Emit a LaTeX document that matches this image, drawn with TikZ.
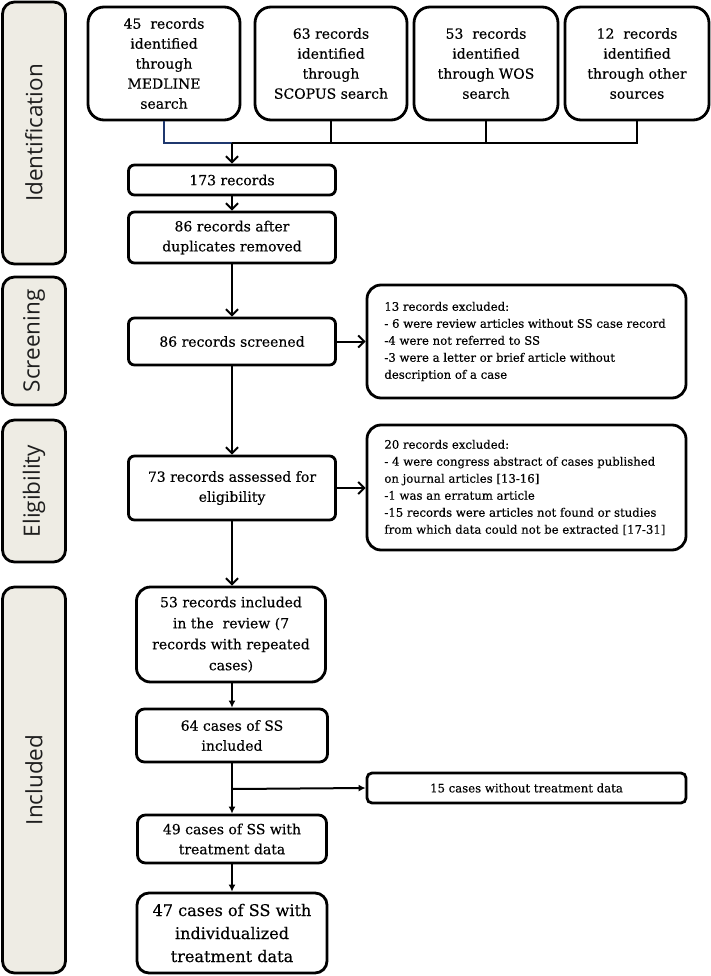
\documentclass[tikz,border=0pt]{standalone}
\usepackage{fontspec}
\setmainfont{DejaVu Serif}[FakeBold=0.35]
\newfontfamily\labfont{Open Sans}
\usetikzlibrary{arrows.meta}
\definecolor{labfill}{RGB}{238,236,228}
\definecolor{labtext}{RGB}{30,30,30}
\definecolor{navy}{RGB}{31,56,110}
\tikzset{
  sidelab/.style={draw, line width=2.8pt, rounded corners=12pt, fill=labfill, minimum width=63pt, inner sep=0pt},
  sidetext/.style={rotate=90, font=\labfont\fontsize{22.5}{25}\selectfont, text=labtext},
  topbox/.style={draw, line width=2.8pt, rounded corners=16pt, align=center, inner sep=0pt, font=\fontsize{14}{20}\selectfont},
  mainbox/.style={draw, line width=2.8pt, rounded corners=6pt, align=center, inner sep=0pt, font=\fontsize{14}{20}\selectfont},
  exbox/.style={draw, line width=2.8pt, rounded corners=14pt, align=left, inner sep=0pt, font=\fontsize{11.7}{17}\selectfont},
  conn/.style={line width=2pt},
  barb/.style={conn, -{Straight Barb[length=6pt,width=12pt,line width=2pt]}},
  tri/.style={conn, -{Latex[length=7pt,width=7pt]}}
}
\begin{document}
\begin{tikzpicture}[x=1pt,y=-1pt]
\useasboundingbox (0,0) rectangle (711,976);
% side labels
\node[sidelab, minimum height=262pt] (lid) at (34,133) {};
\node[sidetext] (tid) at (lid.center) {Identification};
\node[sidelab, minimum height=128pt] (lsc) at (34,341) {};
\node[sidetext] (tsc) at (lsc.center) {Screening};
\node[sidelab, minimum height=142pt] (lel) at (34,491) {};
\node[sidetext] (tel) at (lel.center) {Eligibility};
\node[sidelab, minimum height=386pt] (lin) at (34,780) {};
\node[sidetext] (tin) at (lin.center) {Included};
% top boxes
\node[topbox, minimum width=152pt, minimum height=113pt] (m1) at (164,63.5) {45\ \ records\\identified\\through\\MEDLINE\\search};
\node[topbox, minimum width=152pt, minimum height=113pt] (m2) at (331,63.5) {63 records\\identified\\through\\SCOPUS search};
\node[topbox, minimum width=144pt, minimum height=113pt] (m3) at (486,63.5) {53\ \ records\\identified\\through WOS\\search};
\node[topbox, minimum width=144pt, minimum height=113pt] (m4) at (637,63.5) {12\ \ records\\identified\\through other\\sources};
% main column
\node[mainbox, minimum width=207pt, minimum height=30pt] (r173) at (232,180) {173 records};
\node[mainbox, minimum width=207pt, minimum height=51pt] (r86) at (232,237.5) {86 records after\\duplicates removed};
\node[mainbox, minimum width=207pt, minimum height=47pt] (scr) at (232,341.5) {86 records screened};
\node[mainbox, minimum width=207pt, minimum height=64pt] (eli) at (232,488) {73 records assessed for\\eligibility};
\node[topbox, rounded corners=14pt, minimum width=189pt, minimum height=95pt, font=\fontsize{14}{21}\selectfont] (inc) at (231,634.5) {53 records included\\in the\ \ review (7\\records with repeated\\cases)};
\node[mainbox, rounded corners=8pt, minimum width=191pt, minimum height=53pt] (c64) at (232,735.5) {64 cases of SS\\included};
\node[mainbox, rounded corners=8pt, minimum width=189pt, minimum height=48pt] (c49) at (232,839) {49 cases of SS with\\treatment data};
\node[mainbox, rounded corners=12pt, minimum width=190pt, minimum height=80pt, font=\fontsize{16.1}{23}\selectfont] (c47) at (232,933) {47 cases of SS with\\individualized\\treatment data};
% exclusion boxes
\node[exbox, minimum width=319pt, minimum height=113pt] (ex1) at (526.5,341.5) {};
\node[exbox, draw=none, anchor=west, align=left] (ex1t) at (383,341.5) {13 records excluded:\\- 6 were review articles without SS case record\\-4 were not referred to SS\\-3 were a letter or brief article without\\description of a case};
\node[exbox, minimum width=319pt, minimum height=125pt] (ex2) at (526.5,487.5) {};
\node[exbox, draw=none, anchor=west, align=left] (ex2t) at (383,487.5) {20 records excluded:\\- 4 were congress abstract of cases published\\on journal articles [13-16]\\-1 was an erratum article\\-15 records were articles not found or studies\\from which data could not be extracted [17-31]};
\node[mainbox, rounded corners=5pt, minimum width=319pt, minimum height=30pt, font=\fontsize{11.7}{17}\selectfont] (ex3) at (526.5,788) {15 cases without treatment data};
% connectors
\coordinate (j) at (232,143);
\draw[conn, navy] (m1.south) |- (j);
\draw[conn] (m2.south) |- (j);
\draw[conn] (m3.south) |- (j);
\draw[conn] (m4.south) |- (j);
\draw[barb] (j) -- (r173.north);
\draw[barb] (r173.south) -- (r86.north);
\draw[barb] (r86.south) -- (scr.north);
\draw[barb] (scr.south) -- (eli.north);
\draw[barb] (eli.south) -- (eli.south |- inc.north);
\draw[tri] (inc.south -| c64.north) -- (c64.north);
\coordinate (br) at (232,789);
\draw[tri] (c64.south) -- (c49.north);
\draw[tri] (br) -- (ex3.west);
\draw[tri] (c49.south) -- (c47.north);
\draw[barb] (scr.east) -- (ex1.west);
\draw[barb] (eli.east) -- (eli.east -| ex2.west);
\end{tikzpicture}
\end{document}
